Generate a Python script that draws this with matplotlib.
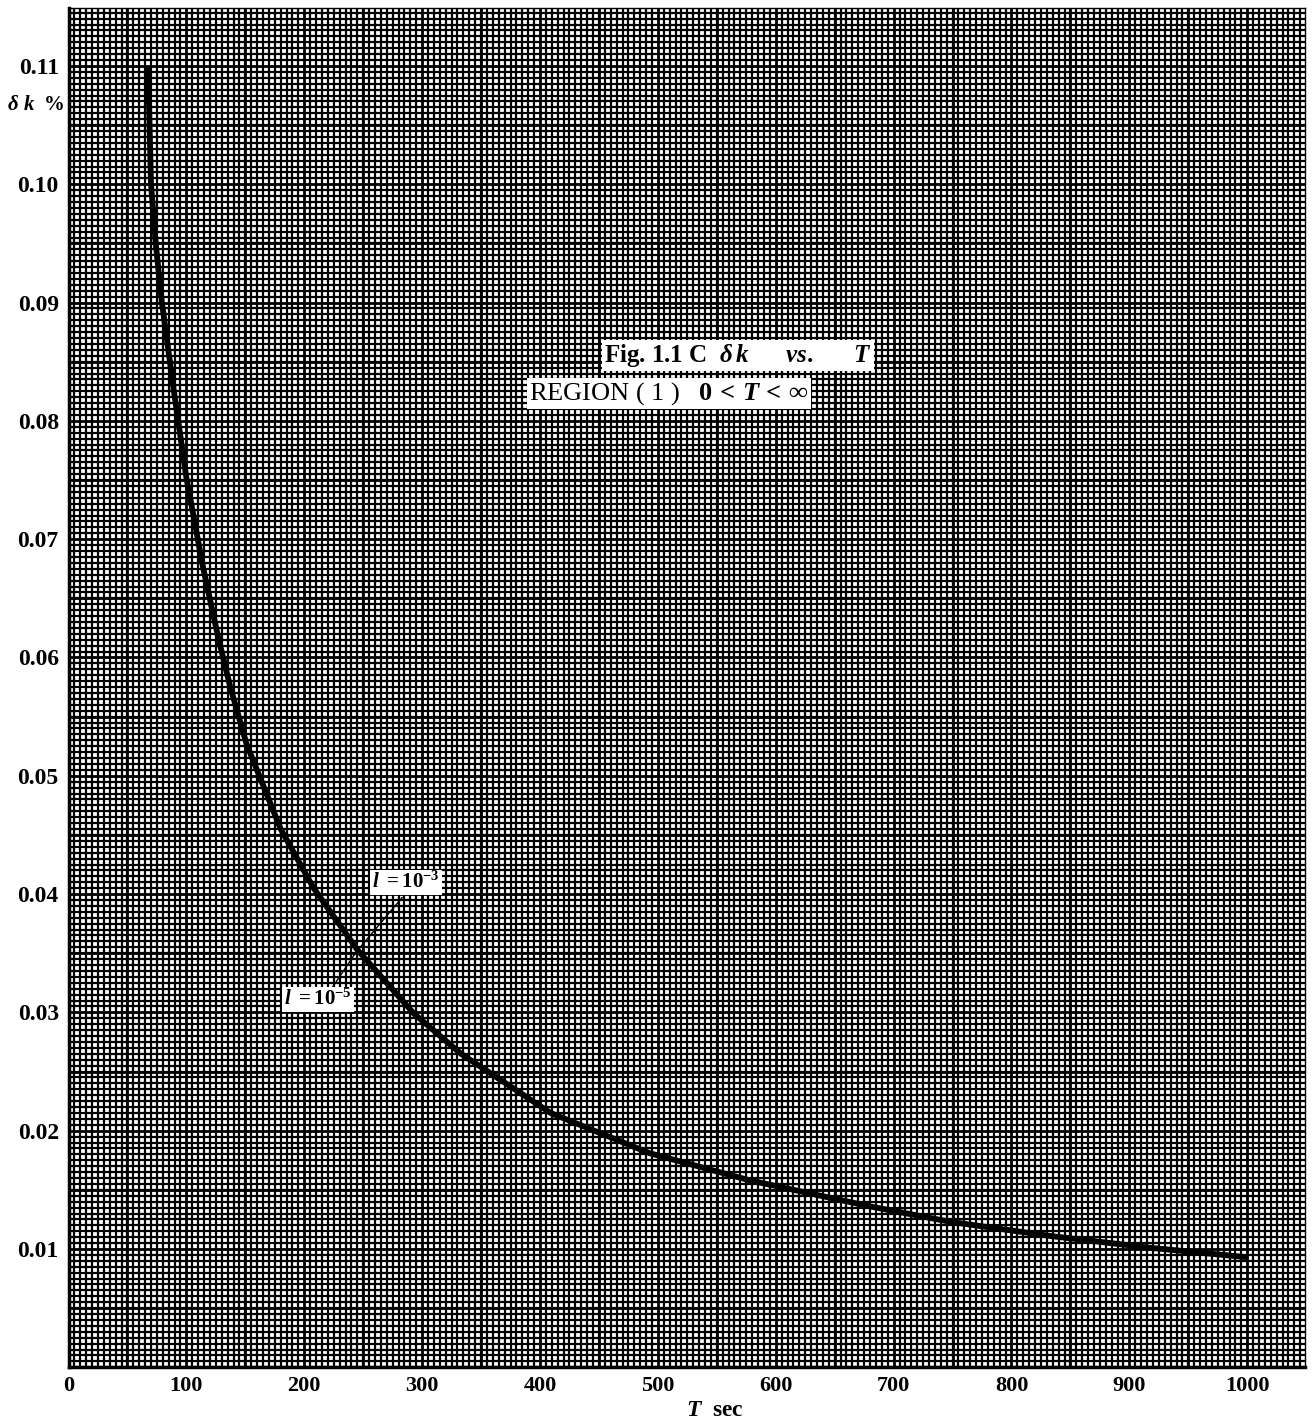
import numpy as np
import matplotlib
matplotlib.use("Agg")
import matplotlib.pyplot as plt

# curve (T in sec, delta k in %)
T_sec = [67.5, 70, 74, 79, 89, 100, 114, 127, 137, 151, 180, 208, 245,
         293, 333, 409, 493, 578, 680, 748, 833, 918, 1000]
dk_pct = [0.1100, 0.1000, 0.0950, 0.0902, 0.0828, 0.0752, 0.0677, 0.0617,
          0.0576, 0.0527, 0.0455, 0.0405, 0.0353, 0.0299, 0.0265, 0.0215,
          0.0181, 0.0158, 0.0136, 0.0123, 0.0111, 0.0101, 0.0093]

x_ticks = [0, 100, 200, 300, 400, 500, 600, 700, 800, 900, 1000]
y_ticks = [0.01, 0.02, 0.03, 0.04, 0.05, 0.06, 0.07, 0.08, 0.09, 0.10, 0.11]
y_ticklabels = ["0.01", "0.02", "0.03", "0.04", "0.05", "0.06",
                "0.07", "0.08", "0.09", "0.10", "0.11"]

# where the two leader lines meet the curve
leader_l3 = ([283, 244], [0.0397, 0.0351])
leader_l5 = ([215, 244], [0.0308, 0.0351])

plt.rcParams["font.family"] = ["Liberation Serif", "DejaVu Serif"]
plt.rcParams["mathtext.fontset"] = "custom"
plt.rcParams["mathtext.rm"] = "Liberation Serif:bold"
plt.rcParams["mathtext.it"] = "Liberation Serif:italic:bold"
plt.rcParams["mathtext.bf"] = "Liberation Serif:bold"

W, H = 1313, 1426
fig = plt.figure(figsize=(W / 100, H / 100), dpi=100)
ax = fig.add_axes([68.5 / W, 58.7 / H, (1305 - 68.5) / W, (1367.3 - 8) / H])
ax.set_xlim(0, 1049)
ax.set_ylim(0, 0.1149)

# graph paper
ax.set_xticks(np.arange(0, 1050, 5), minor=True)
ax.set_yticks(np.arange(0, 0.115, 0.0005), minor=True)
ax.grid(which="minor", color="black", lw=1.6, zorder=0)
ax.vlines(np.arange(0, 1050, 50), 0, 0.1149, color="black", lw=2.0, zorder=0)
ax.hlines(np.arange(0, 0.115, 0.005), 0, 1049, color="black", lw=2.0, zorder=0)

ax.set_xticks(x_ticks)
ax.set_xticklabels([str(v) for v in x_ticks])
ax.set_yticks(y_ticks)
ax.set_yticklabels(y_ticklabels)
ax.tick_params(which="both", length=0)
ax.tick_params(axis="x", pad=6, labelsize=16)
ax.tick_params(axis="y", pad=7, labelsize=17)
for lab in ax.get_xticklabels() + ax.get_yticklabels():
    lab.set_fontweight("bold")

for side in ["left", "bottom"]:
    ax.spines[side].set_linewidth(2.5)
for side in ["top", "right"]:
    ax.spines[side].set_linewidth(1.0)

# delta k vs T (l = 1e-3 and l = 1e-5 coincide at this scale)
ax.plot(T_sec, dk_pct, color="black", lw=4.2, solid_capstyle="butt",
        solid_joinstyle="round", zorder=3)

# leader lines and labels
ax.plot(*leader_l3, color="black", lw=1.0, zorder=3)
ax.plot(*leader_l5, color="black", lw=1.0, zorder=3)
box = dict(facecolor="white", edgecolor="none", pad=1.5)
ax.text(286, 0.0410, r"$l\ =10^{-3}$", fontsize=15, ha="center", va="center",
        bbox=box, zorder=4)
ax.text(212, 0.0311, r"$l\ =10^{-5}$", fontsize=15, ha="center", va="center",
        bbox=box, zorder=4)

ax.text(454, 0.0855, r"Fig. 1.1 C  $\delta\, k$      $vs.$      $T$", fontsize=18,
        fontweight="bold", ha="left", va="center", bbox=box, zorder=4)
ax.text(391, 0.0823, r"REGION ( 1 )   $0\,<\,T\,<\,\infty$", fontsize=19,
        ha="left", va="center", bbox=box, zorder=4)

fig.text(36 / W, 1 - 105 / H, r"$\delta\ k$  $\%$", fontsize=15,
         ha="center", va="center")
fig.text(715 / W, 1 - 1410 / H, r"$T$  sec", fontsize=17, fontweight="bold",
         ha="center", va="center")

fig.savefig("out.png", dpi=100)
